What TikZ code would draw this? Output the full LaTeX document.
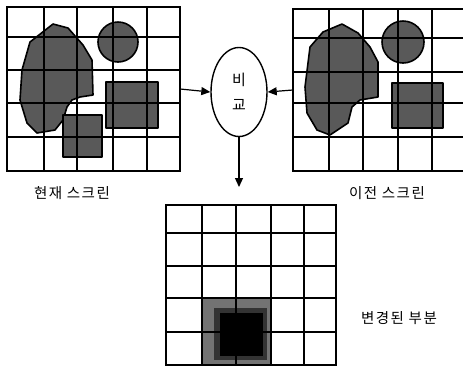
\documentclass[tikz,border=0pt]{standalone}
\usepackage{fontspec}
\newfontfamily\kr[LetterSpace=10]{Noto Sans CJK KR}
\usetikzlibrary{arrows.meta,shapes.geometric}
\begin{document}
\begin{tikzpicture}[x=1pt,y=-1pt,
  gridline/.style={line width=1.7pt,line cap=rect},
  shp/.style={fill=black!65,draw=black,line width=1.6pt,line join=round},
  arr/.style={line width=1.2pt,-{Triangle[length=9pt,width=8pt]}},
  lbl/.style={font=\kr\fontsize{14.5}{16}\selectfont,inner sep=0pt},
  box/.style={inner sep=0pt}]
\useasboundingbox (0,0) rectangle (463,368);
% ---------- current screen (left) ----------
\node[box,minimum width=173pt,minimum height=164pt] (cur) at (93.5,89) {};
\filldraw[shp] (53,24) -- (68,28) -- (83,45) -- (92,60) -- (93,95) -- (80,97) -- (72,100) -- (67,107) -- (63,120) -- (55,130) -- (37,133) -- (27,123) -- (20,100) -- (22,70) -- (30,42) -- cycle;
\filldraw[shp] (118,42) circle (20);
\filldraw[shp] (106,82) rectangle (158,128);
\filldraw[shp] (63,115) rectangle (102,157);
\foreach \x in {7,44,77,113,147,180} \draw[gridline] (\x,7) -- (\x,171);
\foreach \y in {7,37,70,103,137,171} \draw[gridline] (7,\y) -- (180,\y);
% ---------- previous screen (right) ----------
\node[box,minimum width=170pt,minimum height=162pt] (prev) at (378,90) {};
\filldraw[shp] (342,24) -- (358,33) -- (370,47) -- (378,62) -- (378,97) -- (360,100) -- (352,107) -- (348,123) -- (330,135) -- (317,130) -- (307,113) -- (305,87) -- (310,47) -- (323,32) -- cycle;
\filldraw[shp] (403,42) circle (21);
\filldraw[shp] (392,83) rectangle (443,128);
\foreach \x in {293,329,363,398,432} \draw[gridline] (\x,9) -- (\x,171);
\foreach \y in {9,38,72,103,137,171} \draw[gridline] (293,\y) -- (463,\y);
% ---------- compare ----------
\node[ellipse,draw,line width=1.4pt,minimum width=56pt,minimum height=89pt,inner sep=0pt,align=center,font=\kr\fontsize{15}{17}\selectfont] (cmp) at (239,92) {비\\[8pt]교};
\coordinate (down) at (239,187);
\draw[arr] (cur.east) -- (cmp.west);
\draw[arr] (prev.west) -- (cmp.east);
\draw[arr] (cmp.south) -- (down);
% ---------- changed part (bottom) ----------
\fill[black!55] (202,298) rectangle (271,364);
\fill[black!80] (214,308) rectangle (267,360);
\fill[black] (220,313) rectangle (263,356);
\foreach \x in {166,202,236,271,304,336} \draw[gridline] (\x,205) -- (\x,365);
\foreach \y in {205,233,266,298,332,365} \draw[gridline] (166,\y) -- (336,\y);
% ---------- labels ----------
\node[lbl] (l1) at (72,193) {현재 스크린};
\node[lbl] (l2) at (387,193) {이전 스크린};
\node[lbl] (l3) at (399,318) {변경된 부분};
\end{tikzpicture}
\end{document}
